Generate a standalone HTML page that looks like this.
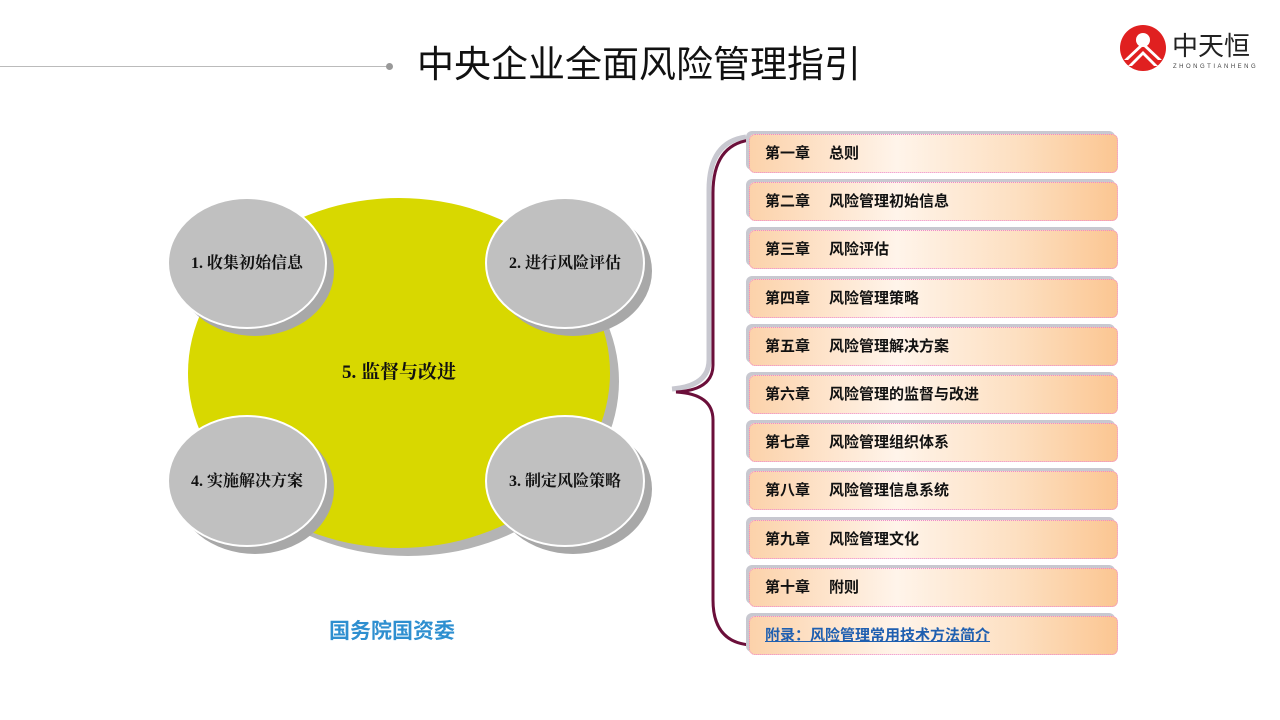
<!DOCTYPE html>
<html><head><meta charset="utf-8"><style>
body{margin:0;width:1280px;height:720px;background:#fff;position:relative;overflow:hidden;font-family:"Liberation Sans","Noto Sans CJK SC",sans-serif}
.title{position:absolute;left:417px;top:40px;font-size:37px;color:#111;line-height:50px}
.box{position:absolute;left:749px;width:369px;height:39px;border:1px dotted #ee88cc;border-radius:6px;
background:linear-gradient(90deg,#fcd2aa 0%,#fff4ea 40%,#fde0c2 72%,#fbc692 100%);
box-shadow:-3px -3px 0 #c8c8d0;font-weight:bold;font-size:15px;line-height:38px;box-sizing:border-box;padding-left:15px;color:#111}
.box span{display:inline-block;width:64px}
</style></head><body>
<div style="position:absolute;left:0;top:66px;width:388px;height:1px;background:#bbb"></div>
<div style="position:absolute;left:386px;top:63px;width:7px;height:7px;border-radius:50%;background:#999"></div>
<div class="title">中央企业全面风险管理指引</div>
<svg style="position:absolute;left:1120px;top:24px" width="50" height="50" viewBox="0 0 50 50">
<circle cx="23" cy="24" r="23" fill="#e02020"/>
<circle cx="23" cy="16" r="7" fill="#fff"/>
<path d="M4 36 L23 18 L42 36 L38 36 L23 22 L8 36Z M8 42 L23 27 L38 42 L34 42 L23 31 L12 42Z" fill="#fff"/>
</svg>
<div style="position:absolute;left:1172px;top:30px;font-size:26px;color:#222;line-height:32px">中天恒</div>
<div style="position:absolute;left:1173px;top:64px;font-size:6px;color:#444;letter-spacing:2.5px">ZHONGTIANHENG</div>

<svg style="position:absolute;left:0;top:0" width="1280" height="720">
<ellipse cx="408" cy="381" rx="211" ry="175" fill="#b4b4b4"/>
<ellipse cx="399" cy="373" rx="211" ry="175" fill="#d8d800"/>
<g font-family="Liberation Serif,Noto Serif CJK SC,serif" font-size="16" font-weight="bold" fill="#111" text-anchor="middle">
<ellipse cx="255" cy="271" rx="79" ry="65" fill="#a8a8a8"/>
<ellipse cx="573" cy="271" rx="79" ry="65" fill="#a8a8a8"/>
<ellipse cx="255" cy="489" rx="79" ry="65" fill="#a8a8a8"/>
<ellipse cx="573" cy="489" rx="79" ry="65" fill="#a8a8a8"/>
<ellipse cx="247" cy="263" rx="79" ry="65" fill="#c0c0c0" stroke="#fff" stroke-width="2"/>
<ellipse cx="565" cy="263" rx="79" ry="65" fill="#c0c0c0" stroke="#fff" stroke-width="2"/>
<ellipse cx="247" cy="481" rx="79" ry="65" fill="#c0c0c0" stroke="#fff" stroke-width="2"/>
<ellipse cx="565" cy="481" rx="79" ry="65" fill="#c0c0c0" stroke="#fff" stroke-width="2"/>
<text x="247" y="268">1. 收集初始信息</text>
<text x="565" y="268">2. 进行风险评估</text>
<text x="247" y="486">4. 实施解决方案</text>
<text x="565" y="486">3. 制定风险策略</text>
<text x="399" y="378" font-size="19">5. 监督与改进</text>
</g>
<path d="M746 137 Q709 142 709 190 L709 360 Q709 386 672 389" fill="none" stroke="#c8c8d0" stroke-width="5"/>
<path d="M750 140 Q713 145 713 193 L713 365 Q713 390 676 392 Q713 394 713 420 L713 600 Q713 642 750 645" fill="none" stroke="#6b0f3a" stroke-width="3"/>
</svg>

<div class="box" style="top:134px"><span>第一章</span>总则</div>
<div class="box" style="top:182px"><span>第二章</span>风险管理初始信息</div>
<div class="box" style="top:230px"><span>第三章</span>风险评估</div>
<div class="box" style="top:279px"><span>第四章</span>风险管理策略</div>
<div class="box" style="top:327px"><span>第五章</span>风险管理解决方案</div>
<div class="box" style="top:375px"><span>第六章</span>风险管理的监督与改进</div>
<div class="box" style="top:423px"><span>第七章</span>风险管理组织体系</div>
<div class="box" style="top:471px"><span>第八章</span>风险管理信息系统</div>
<div class="box" style="top:520px"><span>第九章</span>风险管理文化</div>
<div class="box" style="top:568px"><span>第十章</span>附则</div>
<div class="box" style="top:616px;color:#1f5fb0;text-decoration:underline">附录：风险管理常用技术方法简介</div>

<div style="position:absolute;left:329px;top:615px;font-size:21px;font-weight:bold;color:#2e8fd0">国务院国资委</div>
</body></html>
